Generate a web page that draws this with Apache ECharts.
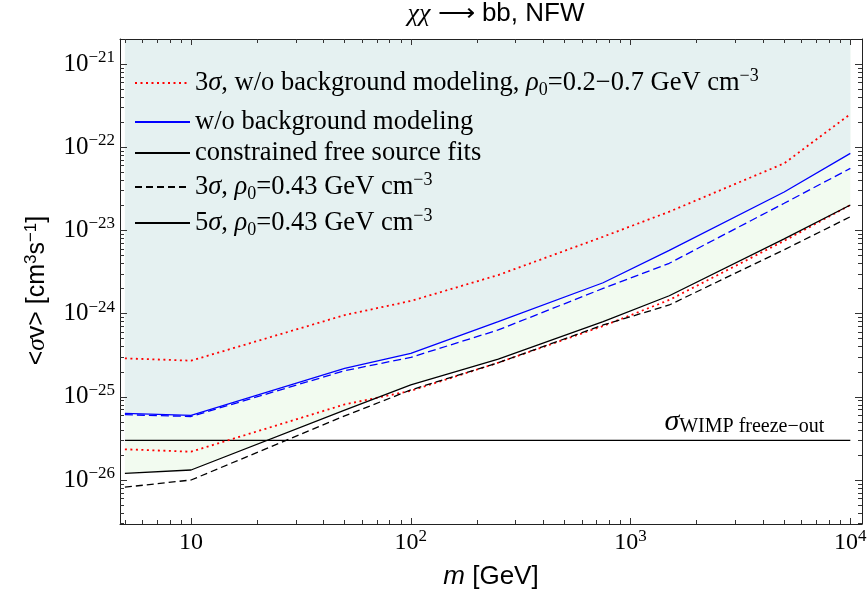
<!DOCTYPE html>
<html><head><meta charset="utf-8">
<script src="https://cdn.jsdelivr.net/npm/echarts@6/dist/echarts.min.js"></script>
<style>html,body{margin:0;padding:0;background:#fff}#c{width:867px;height:597px}</style>
</head><body><div id="c"></div>
<script>
// ---------------- data ----------------
const masses = [5, 10, 50, 100, 250, 750, 1500, 5000, 10000];               // m [GeV]
const red3sigmaHigh = [2.9e-25, 2.72e-25, 9.6e-25, 1.42e-24, 2.91e-24, 8.4e-24, 1.68e-23, 6.4e-23, 2.5e-22];
const red3sigmaLow  = [2.34e-26, 2.19e-26, 8.1e-26, 1.18e-25, 2.57e-25, 7.1e-25, 1.46e-24, 7.5e-24, 2.02e-23];
const blue5sigma    = [6.34e-26, 6.0e-26, 2.2e-25, 3.33e-25, 8.0e-25, 2.35e-24, 5.77e-24, 2.9e-23, 8.45e-23];
const blue3sigma    = [6.1e-26, 5.8e-26, 2.06e-25, 2.98e-25, 6.36e-25, 2.01e-24, 4.03e-24, 2.12e-23, 5.57e-23];
const black5sigma   = [1.2e-26, 1.32e-26, 6.9e-26, 1.39e-25, 2.83e-25, 8.0e-25, 1.64e-24, 7.9e-24, 2.02e-23];
const black3sigma   = [8.2e-27, 1.0e-26, 5.9e-26, 1.21e-25, 2.57e-25, 7.3e-25, 1.27e-24, 5.86e-24, 1.46e-23];
const wimpMasses = [5, 10000];
const wimpSigma = 3e-26;
const xRange = [4.75, 11300];
const yRange = [2.96e-27, 2.0e-21];
const xMajorTicks = [10, 100, 1000, 10000];
const xMinorTicks = [5,6,7,8,9, 20,30,40,50,60,70,80,90, 200,300,400,500,600,700,800,900, 2000,3000,4000,5000,6000,7000,8000,9000];
const yMajorTicks = [1e-26, 1e-25, 1e-24, 1e-23, 1e-22, 1e-21];
const yMinorMultipliers = [2, 3, 4, 5, 6, 7, 8, 9];
const yMinorDecades = [1e-27, 1e-26, 1e-25, 1e-24, 1e-23, 1e-22];

const N_RED = 'red';
const N_BLUE = 'blue';
const N_CONSTR = 'constr';
const N_B3 = 'b3';
const N_B5 = 'b5';
const legendTexts = {
  red: '3{i|σ}, w/o background modeling, {i|ρ}{sub|0}=0.2−0.7 GeV cm{sup|−3}',
  blue: 'w/o background modeling',
  constr: 'constrained free source fits',
  b3: '3{i|σ}, {i|ρ}{sub|0}=0.43 GeV cm{sup|−3}',
  b5: '5{i|σ}, {i|ρ}{sub|0}=0.43 GeV cm{sup|−3}'
};

// ---------------- log10 mapping onto value axes ----------------
const L = v => Math.log10(v);
const pairs = arr => masses.map((m, i) => [L(m), L(arr[i])]);
const xr = xRange.map(L), yr = yRange.map(L);
const xMajL = xMajorTicks.map(L), xMinL = xMinorTicks.map(L);
const yMajL = yMajorTicks.map(L);
const yMinL = [];
yMinorDecades.forEach(d => yMinorMultipliers.forEach(k => { const v = L(k * d); if (v >= yr[0] && v <= yr[1]) yMinL.push(v); }));

// ---------------- styles ----------------
const SERIF = '"Liberation Serif", "Times New Roman", serif';
const SANS = '"Liberation Sans", Arial, sans-serif';
const FILL_BLUE = '#e5f1f1';
const FILL_GREEN = '#f2fbf0';

const chart = echarts.init(document.getElementById('c'));

const labelRich = {
  sup: {fontFamily: SERIF, fontSize: 17, lineHeight: 17, verticalAlign: 'top', color: '#000'}
};
function xLabel(v) { const e = Math.round(v); return e === 1 ? '10' : '10{sup|' + e + '}'; }
function yLabel(v) { const e = Math.round(v); return '10{sup|−' + (-e) + '}'; }

function xAxisDef(pos, major, withLabel) {
  return {
    type: 'value', min: xr[0], max: xr[1], position: pos, z: 10, scale: true,
    splitLine: {show: false}, minorTick: {show: false},
    axisLine: {show: major, onZero: false, lineStyle: {color: '#222', width: 1}},
    axisTick: {show: true, inside: true, length: major ? 6 : 4, customValues: major ? xMajL : xMinL,
               lineStyle: {color: '#333', width: 1}},
    axisLabel: withLabel ? {show: true, customValues: xMajL, formatter: xLabel, margin: 4,
               fontFamily: SERIF, fontSize: 24, lineHeight: 30, color: '#000', rich: labelRich} : {show: false},
    name: withLabel ? '{i|m} [GeV]' : '', nameLocation: 'middle', nameGap: 40,
    nameTextStyle: {fontFamily: SANS, fontSize: 26, color: '#000', rich: {i: {fontFamily: SANS, fontSize: 26, fontStyle: 'italic', color: '#000'}}}
  };
}
function yAxisDef(pos, major, withLabel) {
  return {
    type: 'value', min: yr[0], max: yr[1], position: pos, z: 10, scale: true,
    splitLine: {show: false}, minorTick: {show: false},
    axisLine: {show: major, onZero: false, lineStyle: {color: '#222', width: 1}},
    axisTick: {show: true, inside: true, length: major ? 7 : 4, customValues: major ? yMajL : yMinL,
               lineStyle: {color: '#333', width: 1}},
    axisLabel: withLabel ? {show: true, customValues: yMajL, formatter: yLabel, margin: 5,
               fontFamily: SERIF, fontSize: 25, lineHeight: 30, color: '#000', rich: labelRich} : {show: false},
    name: withLabel ? '<{i|σ}v> [cm{sup|3}s{sup|−1}]{pad|}' : '', nameLocation: 'middle', nameGap: 64, nameRotate: 90,
    nameTextStyle: {fontFamily: SANS, fontSize: 25, lineHeight: 30, color: '#000',
      rich: {i: {fontFamily: SERIF, fontSize: 25, lineHeight: 30, fontStyle: 'italic', color: '#000'},
             sup: {fontFamily: SANS, fontSize: 17, lineHeight: 17, verticalAlign: 'top', color: '#000'},
             pad: {width: 18, lineHeight: 30}}}
  };
}

const legendRich = {
  i: {fontFamily: SERIF, fontSize: 26.5, lineHeight: 32, fontStyle: 'italic', color: '#000'},
  sub: {fontFamily: SERIF, fontSize: 18, lineHeight: 18, verticalAlign: 'bottom', color: '#000'},
  sup: {fontFamily: SERIF, fontSize: 18, lineHeight: 18, verticalAlign: 'top', color: '#000'}
};
const legendRows = [[N_RED, 83], [N_BLUE, 122], [N_CONSTR, 153], [N_B3, 187], [N_B5, 223]];

const lineBase = {type: 'line', symbol: 'none', showSymbol: false, silent: true, z: 5};

const option = {
  animation: false,
  backgroundColor: '#fff',
  title: {
    text: '{i|χχ} ⟶ bb, NFW', left: 496, top: 1, textAlign: 'center', padding: 0,
    textStyle: {fontFamily: SANS, fontSize: 26, fontWeight: 'normal', color: '#000',
      rich: {i: {fontFamily: SERIF, fontSize: 26, fontStyle: 'italic', color: '#000'}}}
  },
  grid: {left: 120, right: 5, top: 39, bottom: 73, containLabel: false, outerBoundsMode: 'none'},
  xAxis: [xAxisDef('bottom', true, true), xAxisDef('bottom', false, false), xAxisDef('top', true, false), xAxisDef('top', false, false)],
  yAxis: [yAxisDef('left', true, true), yAxisDef('left', false, false), yAxisDef('right', true, false), yAxisDef('right', false, false)],
  legend: legendRows.map(([name, cy]) => ({
    data: [name], left: 134, top: cy - 16, padding: 0, itemWidth: 55, itemHeight: 14, itemGap: 0,
    selectedMode: false, itemStyle: {opacity: 0},
    formatter: n => legendTexts[n],
    textStyle: {fontFamily: SERIF, fontSize: 26.5, lineHeight: 32, color: '#000', rich: legendRich}
  })),
  series: [
    Object.assign({}, lineBase, {name: 'fillGreen', data: pairs(black5sigma), z: 1,
      lineStyle: {opacity: 0}, areaStyle: {color: FILL_GREEN, origin: 'end', opacity: 1}}),
    Object.assign({}, lineBase, {name: 'fillBlue', data: pairs(blue5sigma), z: 2,
      lineStyle: {opacity: 0}, areaStyle: {color: FILL_BLUE, origin: 'end', opacity: 1}}),
    Object.assign({}, lineBase, {name: 'wimp', z: 3, symbol: 'circle', symbolSize: 1, showSymbol: true,
      itemStyle: {color: 'rgba(0,0,0,0)'},
      data: [[L(wimpMasses[0]), L(wimpSigma)], {value: [L(wimpMasses[1]), L(wimpSigma)],
        label: {show: true, position: 'top', align: 'right', distance: 3, offset: [-26, 0],
          formatter: '{s|σ}{t|WIMP freeze−out}',
          rich: {s: {fontFamily: SERIF, fontSize: 30, fontStyle: 'italic', lineHeight: 28, verticalAlign: 'bottom', color: '#000'},
                 t: {fontFamily: SERIF, fontSize: 20, lineHeight: 20, verticalAlign: 'bottom', color: '#000'}}}}],
      lineStyle: {color: '#000', width: 1.2}}),
    Object.assign({}, lineBase, {name: N_RED, data: pairs(red3sigmaHigh), lineStyle: {color: '#ff0000', width: 1.8, type: [2, 3.5]}}),
    Object.assign({}, lineBase, {name: N_RED, data: pairs(red3sigmaLow), lineStyle: {color: '#ff0000', width: 1.8, type: [2, 3.5]}}),
    Object.assign({}, lineBase, {name: 'blue3', data: pairs(blue3sigma), lineStyle: {color: '#0000ff', width: 1.3, type: [8, 4]}}),
    Object.assign({}, lineBase, {name: N_BLUE, data: pairs(blue5sigma), lineStyle: {color: '#0000ff', width: 1.3}}),
    Object.assign({}, lineBase, {name: N_CONSTR, data: [], lineStyle: {color: '#000', width: 1.6}}),
    Object.assign({}, lineBase, {name: N_B3, data: pairs(black3sigma), lineStyle: {color: '#000', width: 1.3, type: [7, 4]}}),
    Object.assign({}, lineBase, {name: N_B5, data: pairs(black5sigma), lineStyle: {color: '#000', width: 1.3}})
  ]
};
chart.setOption(option);
</script>
</body></html>
